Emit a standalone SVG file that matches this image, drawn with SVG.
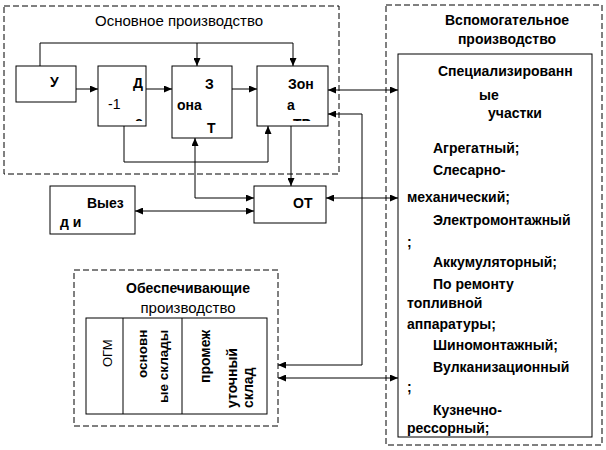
<svg xmlns="http://www.w3.org/2000/svg" width="606" height="450" viewBox="0 0 606 450">
<style>
text{font-family:"Liberation Sans",Arial,sans-serif;font-size:14px;fill:#000}
.b{font-weight:bold}
.r{font-weight:normal}
.box{fill:#fff;stroke:#000;stroke-width:1}
.dash{fill:none;stroke:#000;stroke-width:1;stroke-dasharray:6,3}
.c{fill:none;stroke:#000;stroke-width:1}
.e{marker-end:url(#ar)}
.s{marker-start:url(#ar)}
</style>
<defs>
<marker id="ar" markerUnits="userSpaceOnUse" markerWidth="8" markerHeight="7" refX="8" refY="3.5" orient="auto-start-reverse">
<path d="M0,0 L8,3.5 L0,7 z" fill="#000"/>
</marker>
<clipPath id="clipD"><rect x="99" y="67" width="46" height="54"/></clipPath>
<clipPath id="clipZ"><rect x="258" y="67" width="69" height="54"/></clipPath>
</defs>
<rect width="606" height="450" fill="#fff"/>

<g id="main-production">
<rect class="dash" x="4" y="6" width="335" height="168"/>
<text class="r" x="95" y="26" style="font-size:15px">Основное  производство</text>
</g>

<g id="aux-production">
<rect class="dash" x="386" y="5" width="216" height="440"/>
<text class="b" x="507" y="25" text-anchor="middle">Вспомогательное</text>
<text class="b" x="507" y="44" text-anchor="middle">производство</text>
</g>

<g id="support-production">
<rect class="dash" x="74" y="270" width="204" height="156"/>
<text class="b" x="188" y="293" text-anchor="middle">Обеспечивающие</text>
<text class="r" x="188" y="313" text-anchor="middle" style="font-size:15px">производство</text>
</g>

<g id="node-u">
<rect class="box" x="16" y="66" width="60" height="36"/>
<text class="b" x="50" y="87">У</text>
</g>

<g id="node-d1">
<rect class="box" x="98" y="66" width="48" height="60"/>
<text class="b" x="133" y="88">Д</text>
<text class="r" x="108" y="109">-1</text>
<text class="b" x="135" y="127" clip-path="url(#clipD)">с</text>
</g>

<g id="node-zona-to">
<rect class="box" x="172" y="66" width="60" height="72"/>
<text class="b" x="205" y="89">З</text>
<text class="b" x="177" y="110">она</text>
<text class="b" x="207" y="133">Т</text>
</g>

<g id="node-zona-tr">
<rect class="box" x="257" y="66" width="71" height="60"/>
<text class="b" x="288" y="89">Зон</text>
<text class="b" x="287" y="110">а</text>
<text class="b" x="293" y="129" clip-path="url(#clipZ)">ТР</text>
</g>

<g id="node-ot">
<rect class="box" x="254" y="186" width="72" height="37"/>
<text class="b" x="293" y="208">ОТ</text>
</g>

<g id="node-vyezd">
<rect class="box" x="50" y="186" width="85" height="48"/>
<text class="b" x="87" y="208">Выез</text>
<text class="b" x="60" y="227">д и</text>
</g>

<g id="node-spec">
<rect class="box" x="398" y="54" width="194" height="383"/>
<text class="b" x="438" y="76">Специализированн</text>
<text class="b" x="479" y="100">ые</text>
<text class="b" x="488" y="118">участки</text>
<text class="b" x="433" y="153">Агрегатный;</text>
<text class="b" x="433" y="175">Слесарно-</text>
<text class="b" x="407" y="202">механический;</text>
<text class="b" x="433" y="225">Электромонтажный</text>
<text class="b" x="407" y="247">;</text>
<text class="b" x="433" y="267">Аккумуляторный;</text>
<text class="b" x="433" y="289">По ремонту</text>
<text class="b" x="407" y="308">топливной</text>
<text class="b" x="407" y="329">аппаратуры;</text>
<text class="b" x="433" y="350">Шиномонтажный;</text>
<text class="b" x="433" y="372">Вулканизационный</text>
<text class="b" x="407" y="392">;</text>
<text class="b" x="433" y="415">Кузнечно-</text>
<text class="b" x="407" y="433">рессорный;</text>
</g>

<g id="node-support-table">
<rect class="box" x="86" y="318" width="181" height="96"/>
<line class="c" x1="123" y1="318" x2="123" y2="414"/>
<line class="c" x1="182" y1="318" x2="182" y2="414"/>
<text class="r" transform="translate(112,367) rotate(-90)" style="font-size:13px">ОГМ</text>
<text class="b" transform="translate(147,378) rotate(-90)" style="font-size:13.5px">основн</text>
<text class="b" transform="translate(168,403) rotate(-90)" style="font-size:13.5px">ые склады</text>
<text class="b" transform="translate(210,383) rotate(-90)">промеж</text>
<text class="b" transform="translate(237,408) rotate(-90)">уточный</text>
<text class="b" transform="translate(253,408) rotate(-90)">склад</text>
</g>

<g id="connectors">
<polyline class="c e" points="40,66 40,43 293,43 293,66"/>
<line class="c e" x1="197" y1="43" x2="197" y2="66"/>
<line class="c e" x1="76" y1="89" x2="98" y2="89"/>
<line class="c e" x1="146" y1="89" x2="172" y2="89"/>
<line class="c e" x1="232" y1="89" x2="257" y2="89"/>
<polyline class="c e" points="124,126 124,162 268,162 268,126"/>
<polyline class="c s e" points="195,138 195,198 254,198"/>
<line class="c e" x1="291" y1="126" x2="291" y2="186"/>
<line class="c s e" x1="135" y1="211" x2="254" y2="211"/>
<line class="c s e" x1="328" y1="90" x2="398" y2="90"/>
<polyline class="c s e" points="328,114 362,114 362,365 278,365"/>
<line class="c s e" x1="326" y1="198" x2="398" y2="198"/>
<line class="c s e" x1="278" y1="378" x2="398" y2="378"/>
</g>
</svg>
